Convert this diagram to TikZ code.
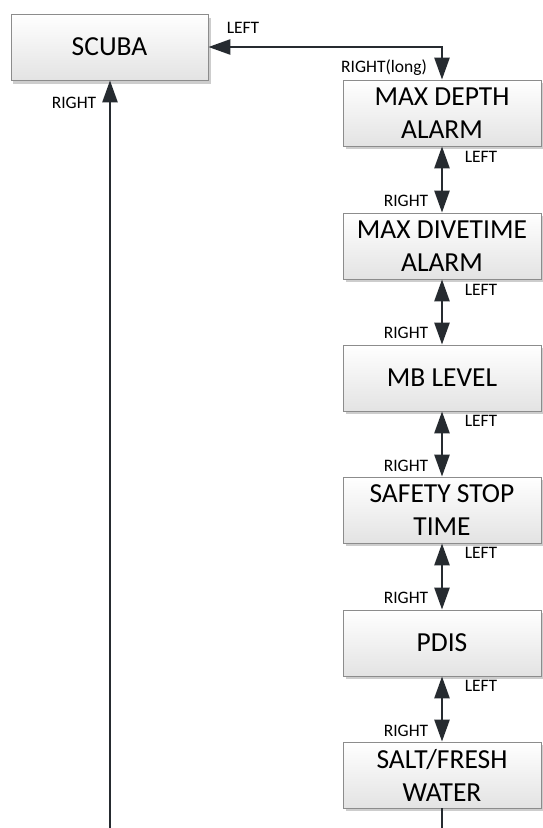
\documentclass[tikz,border=0pt]{standalone}
\usepackage{fontspec}
\setmainfont{Carlito}
\usetikzlibrary{arrows.meta}
\definecolor{lineC}{HTML}{262B30}
\definecolor{boxborder}{HTML}{8C8C8C}
\definecolor{shadowC}{HTML}{CDCDCD}
\definecolor{boxbottom}{HTML}{E3E3E3}
\tikzset{
  menubox/.style={draw=boxborder, line width=0.8pt, top color=white, bottom color=boxbottom,
    minimum width=198pt, minimum height=66pt, inner sep=0pt, align=center,
    font=\fontsize{27.5}{33}\selectfont, text=black},
  conn/.style={draw=lineC, line width=2.6pt},
  tip/.style={-{Triangle[width=15pt,length=22pt]}},
  bitip/.style={{Triangle[width=15pt,length=22pt]}-{Triangle[width=15pt,length=22pt]}},
  lbl/.style={font=\fontsize{17.5}{19}\selectfont, text=black, inner sep=0pt}
}
\begin{document}
\begin{tikzpicture}[x=1pt,y=-1pt]
\useasboundingbox (0,0) rectangle (543,828);
% shadows
\fill[shadowC] (13,18) rectangle (211,84);
\foreach \t in {80,213,345,477,610,742}{
  \fill[shadowC] (346,\t+3) rectangle (544,\t+69);
}
\node[menubox, minimum width=197pt, minimum height=66pt] (scuba) at (109.5,47) {SCUBA};
\node[menubox] (mda) at (442,113) {MAX DEPTH\\ALARM};
\node[menubox] (mdta) at (442,246) {MAX DIVETIME\\ALARM};
\node[menubox] (mb) at (442,378) {MB LEVEL};
\node[menubox] (sst) at (442,510) {SAFETY STOP\\TIME};
\node[menubox] (pdis) at (442,643) {PDIS};
\node[menubox] (salt) at (442,775) {SALT/FRESH\\WATER};
\coordinate (corner) at (442,47);
\coordinate (bottomL) at (110,829);
\coordinate (bottomR) at (442,829);
% connectors
\draw[conn, bitip] (scuba.east) -- (corner) -- (mda.north);
\draw[conn, bitip] (mda.south) -- (mdta.north);
\draw[conn, bitip] (mdta.south) -- (mb.north);
\draw[conn, bitip] (mb.south) -- (sst.north);
\draw[conn, bitip] (sst.south) -- (pdis.north);
\draw[conn, bitip] (pdis.south) -- (salt.north);
\draw[conn] (salt.south) -- (bottomR);
\draw[conn, tip] (bottomL) -- (scuba.south -| bottomL);
% labels
\node[lbl] (l0) at (243,28) {LEFT};
\node[lbl] (r0) at (384,68) {RIGHT(long)};
\node[lbl] (r00) at (74,103) {RIGHT};
\foreach \y/\n in {157/1,290/2,421/3,553/4,686/5}{
  \node[lbl] (left\n) at (481,\y) {LEFT};
}
\foreach \y/\n in {201/1,333/2,466/3,598/4,731/5}{
  \node[lbl] (right\n) at (406,\y) {RIGHT};
}
\end{tikzpicture}
\end{document}
